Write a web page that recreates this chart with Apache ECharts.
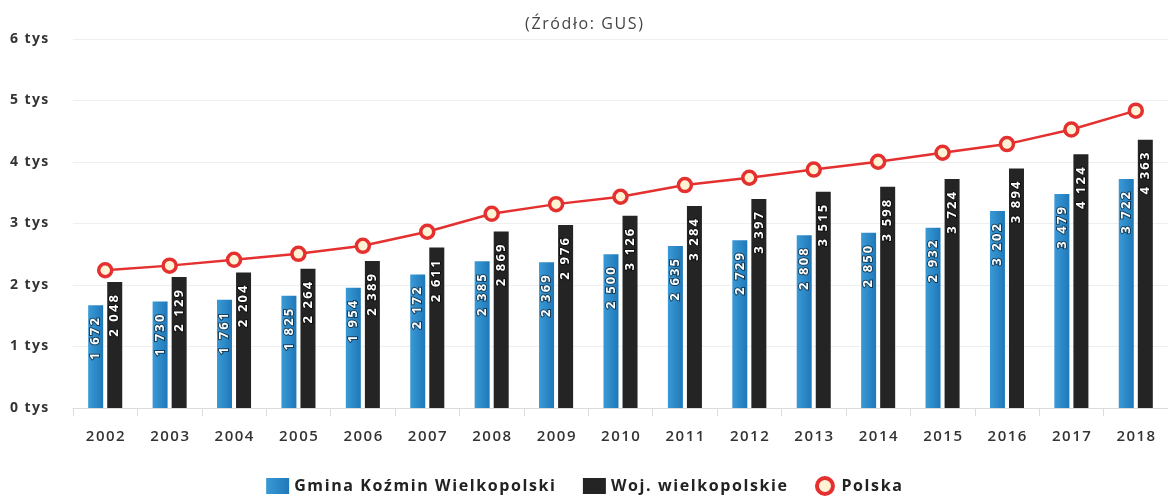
<!DOCTYPE html>
<html>
<head>
<meta charset="utf-8">
<script src="https://cdn.jsdelivr.net/npm/echarts@6/dist/echarts.min.js"></script>
<style>
html,body{margin:0;padding:0;background:#fff;}
#c{width:1168px;height:498px;}
</style>
</head>
<body>
<div id="c"></div>
<script>
const years = ['2002','2003','2004','2005','2006','2007','2008','2009','2010','2011','2012','2013','2014','2015','2016','2017','2018'];
const gmina = [1672,1730,1761,1825,1954,2172,2385,2369,2500,2635,2729,2808,2850,2932,3202,3479,3722];
const woj = [2048,2129,2204,2264,2389,2611,2869,2976,3126,3284,3397,3515,3598,3724,3894,4124,4363];
const polska = [2240,2315,2410,2507,2637,2866,3158,3315,3435,3625,3744,3877,4004,4151,4291,4528,4835];
const yTicks = [0,1000,2000,3000,4000,5000,6000];

function fmt(v){ return String(v).replace(/\B(?=(\d{3})+(?!\d))/g,' '); }
function spaced(s, sp){ return String(s).split('').join(sp || '\u200A'); }
const FONT = "'Open Sans', sans-serif";

const barLabel = {
  show: true,
  position: 'insideTop',
  rotate: 90,
  align: 'right',
  verticalAlign: 'middle',
  distance: 13,
  color: '#fff',
  fontFamily: FONT,
  fontWeight: 'bold',
  fontSize: 13,
  textBorderColor: 'rgba(0,0,0,0.55)',
  textBorderWidth: 2,
  formatter: p => spaced(fmt(p.value), '\u2009')
};

const chart = echarts.init(document.getElementById('c'), null, {renderer:'canvas'});
chart.setOption({
  animation: false,
  backgroundColor: '#fff',
  title: {
    text: spaced('(Źródło: GUS)'),
    left: 'center',
    top: 11,
    textStyle: {fontFamily: FONT, fontSize: 16, fontWeight: 'normal', color: '#444'}
  },
  legend: {
    bottom: -3,
    left: 'center',
    itemWidth: 23,
    itemHeight: 16,
    itemGap: 28,
    textStyle: {fontFamily: FONT, fontSize: 16, fontWeight: 'bold', color: '#222'},
    formatter: n => spaced(n),
    data: [
      {name: 'Gmina Koźmin Wielkopolski', icon: 'rect'},
      {name: 'Woj. wielkopolskie', icon: 'rect'},
      {name: 'Polska', icon: 'circle', itemStyle: {color: '#fff3d6', borderColor: '#e53030', borderWidth: 4}}
    ]
  },
  grid: {left: 73, right: -8, top: 39, bottom: 90, containLabel: false},
  xAxis: {
    type: 'category',
    data: years,
    axisLine: {lineStyle: {color: '#dcdcdc'}},
    axisTick: {show: true, lineStyle: {color: '#dcdcdc'}, length: 8},
    axisLabel: {fontFamily: FONT, fontSize: 15, fontWeight: 600, color: '#333', margin: 21,
      formatter: v => spaced(v)}
  },
  yAxis: {
    type: 'value',
    min: yTicks[0],
    max: yTicks[yTicks.length-1],
    interval: 1000,
    axisLine: {show: false},
    axisTick: {show: false},
    splitLine: {lineStyle: {color: '#efefef'}},
    axisLabel: {
      fontFamily: FONT, fontSize: 14, fontWeight: 'bold', color: '#333',
      align: 'left', margin: 63,
      formatter: v => spaced((v/1000) + ' tys')
    }
  },
  series: [
    {
      name: 'Gmina Koźmin Wielkopolski',
      type: 'bar',
      data: gmina,
      barWidth: 15,
      barGap: '27%',
      itemStyle: {color: new echarts.graphic.LinearGradient(0,0,1,0,[{offset:0,color:'#3a9ad6'},{offset:1,color:'#1f78b8'}])},
      label: barLabel
    },
    {
      name: 'Woj. wielkopolskie',
      type: 'bar',
      data: woj,
      barWidth: 15,
      itemStyle: {color: '#242424'},
      label: barLabel
    },
    {
      name: 'Polska',
      type: 'line',
      data: polska,
      symbol: 'circle',
      symbolSize: 13,
      lineStyle: {color: '#e53030', width: 2.5},
      itemStyle: {color: '#fff3d6', borderColor: '#e53030', borderWidth: 3.5},
      z: 5
    }
  ]
});
</script>
</body>
</html>
